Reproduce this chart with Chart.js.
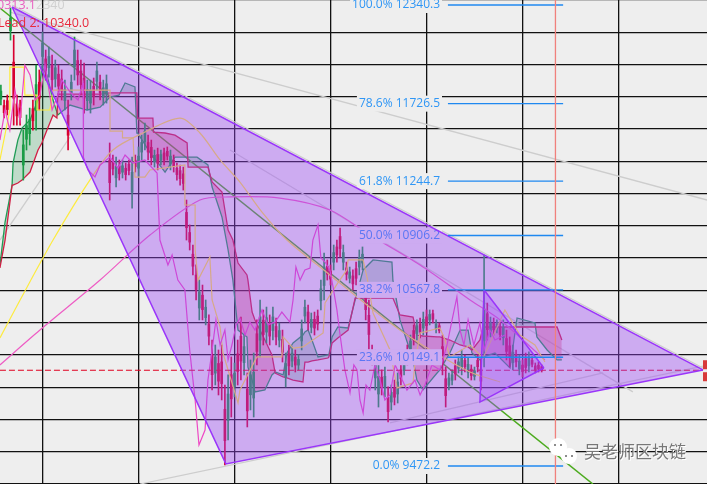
<!DOCTYPE html>
<html>
<head>
<meta charset="utf-8">
<title>chart</title>
<script src="https://cdn.jsdelivr.net/npm/chart.js@4"></script>
<style>
  html, body { margin: 0; padding: 0; background: #eeeeee; overflow: hidden; }
  canvas { display: block; }
</style>
</head>
<body>
<canvas id="myChart" width="707" height="484"></canvas>
<script>
// candles, first one is bar -13
const barHigh = [
  11842,11749,11780,12321,12153,11780,11749,11562,11656,11699,
  11749,11967,11936,12172,12060,12079,12029,11998,11967,11936,
  11873,11749,11905,12141,12060,11998,11979,11873,11873,11886,
  11985,11905,11873,11905,11482,11407,11394,11376,11376,11357,
  11376,11394,11407,11457,11531,11606,11531,11500,11438,11450,
  11438,11450,11457,11438,11407,11357,11345,11332,11127,10972,
  10847,10723,10629,10598,10505,10412,10256,10225,10194,10225,
  9976,10039,10151,10113,10256,10399,10287,10051,10132,10175,
  10381,10505,10443,10461,10412,10461,10393,10362,10318,10175,
  10225,10213,10194,10163,10381,10505,10474,10424,10430,10443,
  10629,10797,10754,10723,10847,10878,10953,10847,10741,10710,
  10692,10741,10816,10835,10598,10505,10225,10194,10113,10070,
  10088,9964,9976,10007,10051,10113,10132,10225,10287,10350,
  10381,10393,10430,10443,10443,10443,10381,10362,10287,10088,
  10051,10070,10132,10151,10194,10163,10144,10101,10088,10163,
  10132,10785,10486,10399,10393,10381,10368,10381,10318,10275,
  10225,10194,10163,10132,10175,10182,10151,10113,10119,10101,
];
const barLow = [
  11718,11637,11656,12122,11593,11593,11593,11251,11438,11469,
  11562,11562,11687,11954,11873,11892,11811,11830,11780,11749,
  11687,11438,11749,11873,11842,11780,11668,11687,11668,11718,
  11811,11749,11718,11730,11127,11283,11208,11251,11264,11251,
  11283,11077,11301,11270,11376,11438,11376,11345,11332,11314,
  11345,11345,11376,11314,11301,11251,11220,11189,10878,10816,
  10661,10505,10381,10381,10350,10225,9945,9976,9914,9883,
  9479,9634,9777,9902,9976,10007,10039,9715,9821,9777,
  10101,10151,10225,10238,10225,10256,10225,10213,10119,9964,
  10039,10088,10057,10070,10194,10362,10318,10300,10287,10318,
  10443,10505,10629,10598,10692,10741,10773,10692,10629,10611,
  10567,10598,10661,10692,10381,10194,10101,9945,9839,9914,
  9902,9746,9821,9852,9864,9976,10039,10101,10163,10225,
  10256,10269,10287,10300,10350,10362,10300,10300,10039,9839,
  9945,9976,10007,10051,10039,10057,10020,10007,10007,10057,
  9945,10088,10256,10275,10287,10300,10256,10225,10132,10088,
  10070,10088,10039,10026,10051,10057,10088,10051,10057,10057,
];
const barOpen = [
  11755,11715,11745,12180,11985,11725,11700,11345,11505,11540,
  11695,11685,11860,12020,12005,11950,11965,11880,11910,11880,
  11745,11655,11795,11955,11995,11930,11885,11745,11730,11835,
  11865,11860,11765,11785,11375,11370,11265,11340,11300,11325,
  11350,11175,11375,11325,11425,11490,11485,11455,11365,11410,
  11375,11420,11430,11350,11375,11325,11310,11290,11050,10925,
  10790,10660,10455,10535,10395,10355,10165,10050,10110,10120,
  9825,9755,10040,9965,10170,10280,10115,9950,9915,9895,
  10295,10255,10380,10305,10355,10315,10340,10255,10260,10025,
  10170,10125,10150,10100,10250,10405,10430,10335,10385,10405,
  10500,10595,10715,10685,10740,10835,10900,10740,10705,10640,
  10655,10700,10710,10735,10535,10410,10190,10020,9920,10025,
  9960,9900,9870,9960,9920,10070,10065,10190,10200,10315,
  10295,10355,10330,10400,10380,10420,10325,10345,10215,10015,
  9975,10005,10095,10080,10085,10130,10055,10075,10030,10130,
  10075,10250,10420,10310,10360,10325,10335,10270,10265,10220,
  10115,10165,10075,10100,10140,10095,10130,10095,10100,10090,
];
const barClose = [
  11805,11670,11690,12260,11760,11650,11640,11470,11590,11630,
  11620,11845,11760,12105,11930,12020,11875,11950,11835,11805,
  11815,11530,11860,12060,11905,11845,11760,11815,11810,11770,
  11930,11795,11825,11850,11235,11320,11335,11290,11340,11285,
  11310,11300,11335,11400,11485,11555,11425,11390,11405,11355,
  11410,11375,11400,11400,11335,11285,11260,11230,10955,10865,
  10715,10570,10555,10445,10460,10280,10040,10150,10000,9985,
  9630,9920,9890,10050,10060,10125,10215,9815,10040,10055,
  10185,10400,10290,10395,10280,10400,10275,10315,10180,10110,
  10095,10175,10100,10135,10325,10460,10365,10385,10330,10355,
  10575,10710,10665,10635,10800,10785,10825,10800,10665,10680,
  10605,10640,10770,10790,10445,10290,10135,10120,10030,9960,
  10030,9810,9930,9900,9995,10015,10105,10140,10250,10260,
  10345,10305,10385,10345,10415,10385,10355,10315,10110,9910,
  10020,10040,10045,10120,10150,10090,10105,10035,10065,10090,
  10000,10450,10320,10360,10320,10355,10290,10335,10185,10145,
  10180,10120,10125,10060,10085,10145,10105,10070,10075,10070,
];
const firstBar = -13;

// ichimoku cloud
const leadX = [
  -13.3,-11.7,-9.5,-9.2,-7.7,-6.4,-3.9,-1.4,-0.2,1.4,
  3.3,4.5,4.8,8.6,13.9,18,21.1,23.9,25.8,28.9,
  29.5,29.7,34.5,34.7,38.3,41.4,45.2,45.5,48.3,51.7,
  53,56.1,58,59.5,61.1,63.9,64.2,65.5,66.4,69.5,
  71.7,72.7,75.2,76.4,78.3,81.4,82,83,84.2,86.1,
  89.2,89.5,90.5,92.3,95.5,97.7,98.3,100.2,103.3,109.2,
  109.5,111.7,115.8,117,118.9,123.3,124.2,127.3,130.5,133,
  134.2,136.7,137.7,141.4,146.1,148.3,153.9,154.5,157.7,160.8,162.3,
];
const lead1 = [
  10723,10990,11220,11357,11500,11575,11625,11749,11954,11905,
  11749,11674,11656,11718,11687,11705,11768,11780,11855,11830,
  11544,11544,11394,11394,11301,11394,11394,11394,11394,11345,
  11208,11021,10816,10629,10318,10275,10088,10007,9933,9945,
  10039,10057,10039,10175,10238,10287,10306,10318,10256,10151,
  10163,10163,10275,10337,10331,10505,10549,10692,10754,10741,
  10629,10381,10132,10007,9945,10051,10070,10175,10318,10318,
  10175,10132,10151,10175,10082,10393,10362,10275,10194,10132,10132,
];
const lead2 = [
  10704,10878,11220,11220,11233,11251,11301,11438,11482,11562,
  11656,11637,11786,11786,11786,11786,11793,11793,11793,11793,
  11793,11637,11637,11550,11544,11531,11482,11332,11332,11332,
  11239,11177,10940,10878,10735,10661,10629,10430,10381,10256,
  10163,10051,10026,10020,10007,9995,10119,10119,10126,10132,
  10144,10151,10238,10269,10318,10517,10517,10517,10517,10517,
  10517,10412,10399,10287,10281,10275,10275,10256,10225,10213,
  10194,10256,10337,10337,10337,10337,10337,10337,10337,10337,10256,
];

// lagging span
const lagX = [
  -13.3,-11.7,-10.2,-8.6,-7,-5.5,-3.9,-2.3,-0.8,0.8,
  3,4.8,6.1,8.6,11.1,12.7,12.8,14.2,16.4,18,
  21.1,23.6,25.8,28.3,32,35.8,36.7,39.2,40.5,42.3,
  44.5,45.5,46,47.7,48.9,50.8,51.7,53,54.2,55.5,
  57,58,59.2,60.5,61.7,63.3,64.8,66.4,68.6,70.5,
  72.7,74.8,77.3,78.3,79.2,80.5,82,83.6,84.5,86.1,
  87,88.3,89.8,90.8,92,93,94.5,96.1,97.3,98.3,
  99.2,100.2,101.1,102.3,103.9,105.5,107,108.6,110.2,111.7,
  113.9,116.4,118,119.5,121.7,124.2,126.4,128,129.5,130.5,
  131.7,133,134.8,136.7,138,139.8,141.4,144.5,
];
const lagY = [
  11500,11687,11562,11811,11625,11967,11905,11749,11780,11967,
  11687,11780,11873,11799,11749,11855,11394,11314,11270,11345,
  11394,11326,11407,11357,11376,11295,10878,10723,10785,10629,
  10567,10318,10194,9883,9603,9696,10007,10194,10381,10225,
  10318,10132,10225,10350,10393,10287,10368,10318,10443,10350,
  10368,10430,10368,10505,10710,10629,10692,10704,10878,10972,
  10766,10741,10692,10586,10443,10287,10070,9927,10101,10070,
  9883,9802,9976,9945,10101,10007,9883,9914,10101,10039,
  9945,10007,9914,9976,10101,10070,10225,10381,10524,10318,
  10225,10381,10225,10362,10194,10318,10256,10287,
];

// base line (stepped)
const baseX = [
  -13.3,-10.2,-10.2,-5.8,-5.5,-1.7,-1.7,2.3,3.3,21.1,
  21.1,25,25,28.3,28.9,32,33.6,44.5,44.5,47.7,
  47.7,48.6,52.3,53,55.5,56.4,61.1,61.7,67,74.8,
  75.2,78.3,81.4,83.6,87.7,88.3,92.3,95.1,95.5,100.2,
  101.4,103.3,108.6,110.8,115.8,116.4,118,124.2,125.8,127.3,
  133.6,137.7,144.5,149.2,153.9,157,
];
const baseY = [
  11376,11687,11954,11954,11780,11780,11687,11687,11811,11811,
  11556,11556,11513,11513,11270,11270,11314,11345,11096,11096,
  10816,10629,10772,10505,10337,10175,9864,9945,10151,10151,
  10275,10206,10213,10244,10300,10486,10611,10692,10754,10754,
  10648,10424,10194,9958,9989,10113,10300,10331,10256,10151,
  10225,10144,10443,10287,10225,10119,
];

// moving averages
const maYellowX = [-13.3,-7,3.3,14.8,22,31.4,43,49.2,55.5,61.7,68.6,76.4,89.8,101.4,111.7,120.2,133.6,143];
const maYellowY = [10269,10505,10878,11251,11438,11544,11637,11544,11376,11239,11052,10878,10661,10474,10318,10206,10057,9995];
const maPinkX = [-13.3,-0.8,18,33.6,49.2,58.6,74.2,89.8,102.3,118,133.6,143,157];
const maPinkY = [10101,10318,10629,10909,11127,11146,11139,11065,10909,10723,10505,10381,10132];

// drawn tools
const bigUpperX = [-9.5,206.4];
const bigUpperY = [12328,10070];
const bigLowerX = [-9.5,57.3,206.4];
const bigLowerY = [12328,9485,10070];
const smallUpperX = [138,156.7];
const smallUpperY = [10567,10082];
const smallLowerX = [138,136.7,156.7];
const smallLowerY = [10567,9870,10082];

const grayLines = [
  { x: [-10.2,207.7], y: [12296,11127] },
  { x: [-9.5,206.4], y: [12340,10082] },
  { x: [30.5,206.4], y: [9360,10094] },
  { x: [58.6,184.5], y: [11438,9933] },
  { x: [108.6,175.2], y: [9740,10051] },
  { x: [-13.3,8.6], y: [10878,11519] },
];
const greenLineX = [-13.3,172];
const greenLineY = [12321,9360];

const lastPrice = 10068;
const priceLineX = [-13.3,206.4];
const timeLineX = 160.3;

const fibLabels = ['100.0% 12340.3','78.6% 11726.5','61.8% 11244.7','50.0% 10906.2','38.2% 10567.8','23.6% 10149.1','0.0% 9472.2'];
const fibValues = [12340.3,11726.5,11244.7,10906.2,10567.8,10149.1,9472.2];
const fibFromX = 126.7;
const fibToX = 162.7;

const zip = (xs, ys) => xs.map((x, i) => ({ x, y: ys[i] }));

const upColor = '#1a9c46';
const downColor = '#d80030';
const barColors = barOpen.map((o, i) => (barClose[i] >= o ? upColor : downColor));

const line = (label, data, color, order, extra) => ({
  type: 'line',
  label,
  data,
  borderColor: color,
  borderWidth: 1.2,
  pointRadius: 0,
  tension: 0,
  fill: false,
  order,
  ...extra,
});

const datasets = [
  ...grayLines.map((g, i) => line('gray' + i, zip(g.x, g.y), '#cdcdcd', 50, { borderWidth: 1.3 })),
  line('trend', zip(greenLineX, greenLineY), '#4cab1e', 45, { borderWidth: 1.5 }),
  line('lead1', zip(leadX, lead1), '#1f9c56', 40, {
    borderWidth: 1.3,
    fill: { target: '+1', above: 'rgba(50,165,90,0.25)', below: 'rgba(225,30,80,0.3)' },
  }),
  line('lead2', zip(leadX, lead2), '#d01f44', 39, { borderWidth: 1.3 }),
  {
    type: 'bar',
    label: 'wick',
    data: barHigh.map((h, i) => ({ x: firstBar + i, y: [barLow[i], h] })),
    backgroundColor: barColors,
    barThickness: 1,
    grouped: false,
    order: 30,
  },
  {
    type: 'bar',
    label: 'body',
    data: barOpen.map((o, i) => ({ x: firstBar + i, y: [Math.min(o, barClose[i]), Math.max(o, barClose[i])] })),
    backgroundColor: barColors,
    barThickness: 2,
    grouped: false,
    order: 29,
  },
  line('maYellow', zip(maYellowX, maYellowY), '#fdeb3e', 25, { tension: 0.3 }),
  line('maPink', zip(maPinkX, maPinkY), '#ee5cc4', 24, { tension: 0.3 }),
  line('base', zip(baseX, baseY), '#fdeb3e', 23),
  line('lag', zip(lagX, lagY), '#ee48c4', 22),
  line('price', priceLineX.map((x) => ({ x, y: lastPrice })), '#e00020', 20, { borderDash: [6, 3] }),
  line('bigUpper', zip(bigUpperX, bigUpperY), '#9a35fa', 6, {
    borderWidth: 1.5,
    fill: { target: '+1', above: 'rgba(155,70,245,0.4)', below: 'rgba(155,70,245,0.4)' },
  }),
  line('bigLower', zip(bigLowerX, bigLowerY), '#9a35fa', 5, { borderWidth: 1.5 }),
  line('smallUpper', zip(smallUpperX, smallUpperY), '#9a35fa', 4, {
    borderWidth: 1.5,
    fill: { target: '+1', above: 'rgba(155,70,245,0.3)', below: 'rgba(155,70,245,0.3)' },
  }),
  line('smallLower', zip(smallLowerX, smallLowerY), '#9a35fa', 3, { borderWidth: 1.5 }),
  ...fibValues.map((v, i) => line('fib' + i, [{ x: fibFromX, y: v }, { x: fibToX, y: v }], '#1f88f0', 2, { borderWidth: 1.4 })),
  line('time', [{ x: timeLineX, y: 9360.2 }, { x: timeLineX, y: 12371.4 }], '#f0807c', 1, { borderWidth: 1.3 }),
];

// fib labels sit under the triangles, so they go right after the price line
const fibLabelPlugin = {
  id: 'fibLabels',
  afterDatasetDraw(chart, args) {
    if (chart.data.datasets[args.index].label !== 'price') return;
    const { ctx, scales } = chart;
    ctx.save();
    ctx.font = '12px "Open Sans"';
    ctx.textAlign = 'right';
    ctx.textBaseline = 'middle';
    fibValues.forEach((v, i) => {
      const y = scales.y.getPixelForValue(v);
      const w = ctx.measureText(fibLabels[i]).width;
      ctx.fillStyle = '#eeeeee';
      ctx.fillRect(440 - w - 2, y - 8, w + 4, 16);
      ctx.fillStyle = '#2f96f5';
      ctx.fillText(fibLabels[i], 440, y);
    });
    ctx.restore();
  },
};

const overlayPlugin = {
  id: 'overlay',
  afterDraw(chart) {
    const { ctx, scales } = chart;
    ctx.save();
    // last price tag on the right edge
    const py = scales.y.getPixelForValue(lastPrice);
    ctx.fillStyle = '#d83a3a';
    ctx.fillRect(703, py - 10, 4, 9);
    ctx.fillRect(703, py + 2, 4, 9);
    // top left texts
    ctx.font = '12.5px "Open Sans"';
    ctx.textBaseline = 'middle';
    ctx.textAlign = 'left';
    ctx.fillStyle = '#d0d0d0';
    ctx.fillText('2340', 36, 5);
    ctx.fillStyle = '#e860c0';
    ctx.fillText('0313.1', -3, 5);
    ctx.fillStyle = '#e8283c';
    ctx.fillText('Lead 2: 10340.0', -2, 23);
    // watermark
    ctx.fillStyle = '#ffffff';
    ctx.beginPath();
    ctx.arc(558, 447, 9, 0, Math.PI * 2);
    ctx.fill();
    ctx.beginPath();
    ctx.arc(569, 456, 8, 0, Math.PI * 2);
    ctx.fill();
    ctx.fillStyle = '#666666';
    [[555, 445], [561, 445], [566, 456], [572, 456]].forEach(([x, y]) => {
      ctx.beginPath();
      ctx.arc(x, y, 1, 0, Math.PI * 2);
      ctx.fill();
    });
    ctx.font = '17px "Noto Sans CJK SC"';
    ctx.fillStyle = '#ffffff';
    ctx.fillText('吴老师区块链', 585, 453);
    ctx.fillStyle = '#777777';
    ctx.fillText('吴老师区块链', 584, 452);
    ctx.restore();
  },
};

new Chart(document.getElementById('myChart'), {
  data: { datasets },
  plugins: [fibLabelPlugin, overlayPlugin],
  options: {
    responsive: false,
    animation: false,
    layout: { padding: 0 },
    plugins: { legend: { display: false }, tooltip: { enabled: false } },
    scales: {
      x: {
        type: 'linear',
        offset: false,
        min: -13.28,
        max: 207.66,
        border: { display: false },
        grid: { color: '#111111', lineWidth: 1.3, drawTicks: false, offset: false },
        ticks: { display: false, stepSize: 30, includeBounds: false },
      },
      y: {
        type: 'linear',
        beginAtZero: false,
        min: 9360.2,
        max: 12371.4,
        border: { display: false },
        grid: { color: '#111111', lineWidth: 1.3, drawTicks: false },
        ticks: { display: false, stepSize: 200, includeBounds: false },
      },
    },
  },
});
</script>
</body>
</html>
